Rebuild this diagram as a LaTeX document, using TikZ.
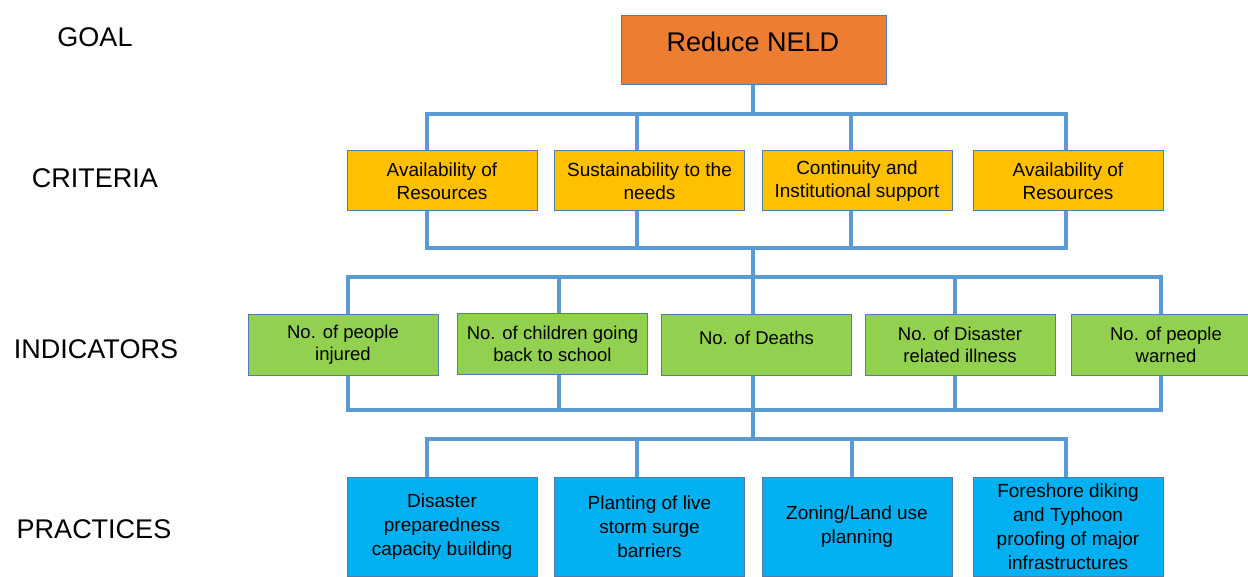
\documentclass[tikz,border=0pt]{standalone}
\usepackage{fontspec}
\setmainfont{Liberation Sans}
\definecolor{goalfill}{HTML}{ED7D31}
\definecolor{critfill}{HTML}{FFC000}
\definecolor{indfill}{HTML}{92D050}
\definecolor{pracfill}{HTML}{00B0F0}
\definecolor{linkblue}{HTML}{5B9BD5}
\definecolor{boxedge}{HTML}{4F7DAE}
\begin{document}
\begin{tikzpicture}[x=0.5pt,y=-0.5pt,
  box/.style={rectangle, draw=boxedge, line width=0.5pt, inner sep=0pt,
    minimum width=95pt, align=center, text=black},
  critbox/.style={box, fill=critfill, minimum height=30pt,
    font=\fontsize{9.5pt}{11.25pt}\selectfont},
  indbox/.style={box, fill=indfill, minimum height=30pt,
    font=\fontsize{9.25pt}{11pt}\selectfont},
  pracbox/.style={box, fill=pracfill, minimum height=49.5pt,
    font=\fontsize{9.5pt}{12pt}\selectfont},
  goalbox/.style={box, fill=goalfill, minimum width=132.5pt, minimum height=34.5pt},
  rowlabel/.style={anchor=base, inner sep=0pt, font=\fontsize{13.5pt}{16pt}\selectfont},
  boxtext/.style={anchor=base, inner sep=0pt},
  link/.style={draw=linkblue, line width=1.9pt, line join=miter}
]
\useasboundingbox (0,0) rectangle (1248,577);
\clip (0,0) rectangle (1248,577);

% level names
\node[rowlabel] (lgoal) at (95,47) {GOAL};
\node[rowlabel] (lcrit) at (95,188) {CRITERIA};
\node[rowlabel] (lind)  at (96,358) {INDICATORS};
\node[rowlabel] (lprac) at (94,538) {PRACTICES};

% goal
\node[goalbox] (goal) at (753.5,50.5) {};
\node[boxtext, font=\fontsize{13.5pt}{16pt}\selectfont] (goalt) at (753,52) {Reduce NELD};

% criteria
\node[critbox] (c1) at (442,181)   {Availability of\\Resources};
\node[critbox] (c2) at (649.5,181) {Sustainability to the\\needs};
\node[critbox] (c3) at (857,181)   {Continuity and\\Institutional support};
\node[critbox] (c4) at (1068,181)  {Availability of\\Resources};

% indicators
\node[indbox] (i1) at (343,345)   {No. of people\\injured};
\node[indbox] (i2) at (552.5,344) {No. of children going\\back to school};
\node[indbox] (i3) at (756.5,345) {};
\node[boxtext, font=\fontsize{9.25pt}{11pt}\selectfont] (i3t) at (756.5,344) {No. of Deaths};
\node[indbox] (i4) at (960,345)   {No. of Disaster\\related illness};
\node[indbox] (i5) at (1166,345)  {No. of people\\warned};

% practices
\node[pracbox] (p1) at (442,526.5)   {Disaster\\preparedness\\capacity building};
\node[pracbox] (p2) at (649.5,526.5) {Planting of live\\storm surge\\barriers};
\node[pracbox] (p3) at (857,526.5)   {Zoning/Land use\\planning};
\node[pracbox] (p4) at (1068,527)    {Foreshore diking\\and Typhoon\\proofing of major\\infrastructures};

% junction points of the bus lines
\coordinate (hubA) at (753,114);
\coordinate (hubB) at (753,248);
\coordinate (hubC) at (753,277);
\coordinate (hubD) at (753,410);
\coordinate (hubE) at (753,439);

% goal to criteria
\draw[link] (753,0 |- goal.south) -- (hubA);
\draw[link] (hubA) -| (427,0 |- c1.north);
\draw[link] (hubA) -| (637,0 |- c2.north);
\draw[link] (hubA) -| (851,0 |- c3.north);
\draw[link] (hubA) -| (1066,0 |- c4.north);

% criteria to indicators
\draw[link] (427,0 |- c1.south) |- (hubB);
\draw[link] (637,0 |- c2.south) |- (hubB);
\draw[link] (851,0 |- c3.south) |- (hubB);
\draw[link] (1066,0 |- c4.south) |- (hubB);
\draw[link] (hubB) -- (hubC);
\draw[link] (hubC) -| (348,0 |- i1.north);
\draw[link] (hubC) -| (559,0 |- i2.north);
\draw[link] (hubC) -- (753,0 |- i3.north);
\draw[link] (hubC) -| (955,0 |- i4.north);
\draw[link] (hubC) -| (1161,0 |- i5.north);

% indicators to practices
\draw[link] (348,0 |- i1.south) |- (hubD);
\draw[link] (559,0 |- i2.south) |- (hubD);
\draw[link] (753,0 |- i3.south) -- (hubD);
\draw[link] (955,0 |- i4.south) |- (hubD);
\draw[link] (1161,0 |- i5.south) |- (hubD);
\draw[link] (hubD) -- (hubE);
\draw[link] (hubE) -| (427,0 |- p1.north);
\draw[link] (hubE) -| (637,0 |- p2.north);
\draw[link] (hubE) -| (852,0 |- p3.north);
\draw[link] (hubE) -| (1066,0 |- p4.north);
\end{tikzpicture}
\end{document}
